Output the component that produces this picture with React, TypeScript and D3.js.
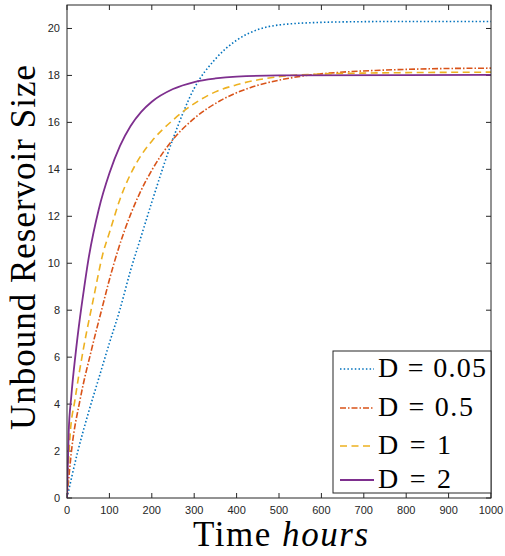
import React from "react";
import * as d3 from "d3";

const labels = ["D = 0.05", "D = 0.5", "D = 1", "D = 2"];
const colors = ["#0072BD", "#D95319", "#EDB120", "#7E2F8E"];

const tBlue = [0, 25, 50, 75, 100, 125, 150, 175, 200, 250, 300, 350, 400, 450, 500, 600, 700, 800, 1000];
const vBlue = [0, 1.95, 3.6, 5.1, 6.6, 8.04, 9.7, 11.15, 12.6, 15.3, 17.45, 18.7, 19.5, 19.95, 20.15, 20.26, 20.29, 20.3, 20.3];

const tRed = [0, 11, 31, 58, 82, 100, 121, 150, 172, 200, 240, 300, 361, 432, 500, 550, 667, 738, 850, 1000];
const vRed = [0, 2.07, 4.2, 6.33, 8.04, 9.3, 10.6, 12.08, 13.0, 13.96, 15.05, 16.17, 16.92, 17.48, 17.8, 17.96, 18.16, 18.22, 18.28, 18.31];

const tOrange = [0, 7, 19, 38.5, 62, 86, 100, 125, 150, 175, 200, 250, 300, 350, 400, 500, 600, 700, 800, 1000];
const vOrange = [0, 2.6, 4.2, 6.33, 8.46, 10.5, 11.3, 12.73, 13.8, 14.6, 15.2, 16.1, 16.8, 17.3, 17.6, 17.95, 18.06, 18.1, 18.12, 18.14];

const tPurple = [0, 4, 10, 20, 30, 40, 50, 75, 100, 125, 150, 175, 200, 250, 300, 350, 400, 500, 1000];
const vPurple = [0, 2.8, 4.3, 6.1, 7.6, 8.9, 10.1, 12.3, 13.83, 15.0, 15.85, 16.45, 16.88, 17.42, 17.72, 17.87, 17.95, 18.0, 18.02];

const xTicks = [0, 100, 200, 300, 400, 500, 600, 700, 800, 900, 1000];
const yTicks = [0, 2, 4, 6, 8, 10, 12, 14, 16, 18, 20];

const seriesT = [tBlue, tRed, tOrange, tPurple];
const seriesV = [vBlue, vRed, vOrange, vPurple];
const dashes = ["1.5,2.2", "6,2,1.5,2", "7,4.5", ""];
const widths = [1.6, 1.6, 1.6, 1.8];
const legendTextLen = [108, 95, 73, 73];

export default function App() {
  const left = 67, right = 491, top = 5, bottom = 498;
  const x = d3.scaleLinear().domain([0, 1000]).range([left, right]);
  const y = d3.scaleLinear().domain([0, 21]).range([bottom, top]);
  const line = d3
    .line<[number, number]>()
    .x((d) => x(d[0]))
    .y((d) => y(d[1]))
    .curve(d3.curveMonotoneX);
  const axisColor = "#262626";
  const tickLen = 5;
  const legY = [369, 408, 446, 480];
  return (
    <svg
      width={505}
      height={556}
      style={{ position: "absolute", left: 0, top: 0, background: "#fff" }}
    >
      <rect x={0} y={0} width={505} height={556} fill="#fff" />
      <defs>
        <clipPath id="plot">
          <rect x={left} y={top} width={right - left} height={bottom - top} />
        </clipPath>
      </defs>
      {xTicks.map((t) => (
        <g key={"x" + t}>
          <line x1={x(t)} x2={x(t)} y1={bottom} y2={bottom - tickLen} stroke={axisColor} />
          <line x1={x(t)} x2={x(t)} y1={top} y2={top + tickLen} stroke={axisColor} />
          <text
            x={x(t)}
            y={bottom + 16}
            textAnchor="middle"
            fontFamily="Liberation Sans, Arial, sans-serif"
            fontSize={11}
            fill={axisColor}
          >
            {t}
          </text>
        </g>
      ))}
      {yTicks.map((v) => (
        <g key={"y" + v}>
          <line x1={left} x2={left + tickLen} y1={y(v)} y2={y(v)} stroke={axisColor} />
          <line x1={right} x2={right - tickLen} y1={y(v)} y2={y(v)} stroke={axisColor} />
          <text
            x={left - 7}
            y={y(v) + 4}
            textAnchor="end"
            fontFamily="Liberation Sans, Arial, sans-serif"
            fontSize={11}
            fill={axisColor}
          >
            {v}
          </text>
        </g>
      ))}
      <g clipPath="url(#plot)">
        {seriesT.map((ts, i) => (
          <path
            key={i}
            d={line(ts.map((t, j) => [t, seriesV[i][j]] as [number, number])) || ""}
            fill="none"
            stroke={colors[i]}
            strokeWidth={widths[i]}
            strokeDasharray={dashes[i] || undefined}
          />
        ))}
      </g>
      <rect x={left} y={top} width={right - left} height={bottom - top} fill="none" stroke={axisColor} strokeWidth={1} />
      <rect x={333} y={351} width={right - 333} height={493 - 351} fill="#fff" stroke={axisColor} strokeWidth={1} />
      {labels.map((lab, i) => (
        <g key={lab}>
          <line
            x1={340}
            x2={374}
            y1={legY[i]}
            y2={legY[i]}
            stroke={colors[i]}
            strokeWidth={widths[i]}
            strokeDasharray={dashes[i] || undefined}
          />
          <text
            x={378}
            y={legY[i] + 8}
            fontFamily="Liberation Serif, Times New Roman, serif"
            fontSize={28}
            fill="#000"
            textLength={legendTextLen[i]}
            lengthAdjust="spacing"
          >
            {lab}
          </text>
        </g>
      ))}
      <text
        x={193}
        y={546}
        fontFamily="Liberation Serif, Times New Roman, serif"
        fontSize={35}
        fill="#000"
        textLength={175}
        lengthAdjust="spacing"
      >
        Time <tspan fontStyle="italic">hours</tspan>
      </text>
      <text
        transform={`translate(35, 247.5) rotate(-90)`}
        textAnchor="middle"
        fontFamily="Liberation Serif, Times New Roman, serif"
        fontSize={35}
        fill="#000"
        textLength={365}
        lengthAdjust="spacing"
      >
        Unbound Reservoir Size
      </text>
    </svg>
  );
}
